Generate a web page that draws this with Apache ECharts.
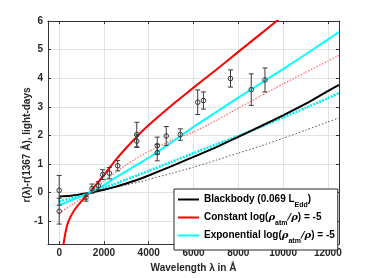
<!DOCTYPE html>
<html><head><meta charset="utf-8">
<script src="https://cdn.jsdelivr.net/npm/echarts@6/dist/echarts.min.js"></script>
<style>html,body{margin:0;padding:0;background:#fff}#c{width:375px;height:278px}</style>
</head><body><div id="c"></div><script>
// ---- data ----
const xTicks = [0, 2000, 4000, 6000, 8000, 10000, 12000];
const yTicks = [-1, 0, 1, 2, 3, 4, 5, 6];

const modelWave = [0, 500, 1000, 1367, 2000, 2500, 3000, 3500, 4000, 5000, 6000, 7000, 8000, 9000, 10000, 11000, 12000, 12500];
const blackbodyLag = [-0.14, -0.11, -0.05, 0, 0.1, 0.2, 0.32, 0.45, 0.6, 0.92, 1.25, 1.58, 1.95, 2.32, 2.7, 3.1, 3.55, 3.77];
const blackbodyDotLag = [-0.14, -0.1, -0.04, 0, 0.09, 0.18, 0.27, 0.36, 0.46, 0.67, 0.89, 1.13, 1.38, 1.63, 1.9, 2.18, 2.47, 2.61];
const exponentialLag = [-0.44, -0.28, -0.12, 0, 0.26, 0.52, 0.75, 0.99, 1.22, 1.75, 2.3, 2.81, 3.32, 3.82, 4.32, 4.83, 5.35, 5.61];
const exponentialDotLag = [-0.31, -0.2, -0.09, 0, 0.17, 0.31, 0.46, 0.61, 0.76, 1.07, 1.38, 1.68, 1.98, 2.3, 2.63, 2.96, 3.3, 3.48];
const constantDotLag = [-0.72, -0.46, -0.21, 0, 0.4, 0.7, 0.98, 1.22, 1.44, 1.82, 2.12, 2.52, 2.95, 3.38, 3.8, 4.2, 4.6, 4.8];

const constantWave = [100, 193, 372, 673, 1000, 1367, 1750, 2000, 2500, 3000, 3500, 4000, 5000, 6000, 7000, 8000, 9000, 10000];
const constantLag = [-2.5, -1.8, -1.1, -0.62, -0.3, 0, 0.38, 0.62, 1.12, 1.57, 1.98, 2.36, 3.04, 3.67, 4.29, 4.92, 5.55, 6.18];

const obsWave = [0, 0, 1197, 1466, 1749, 1943, 2242, 2614, 3466, 3466, 4380, 4380, 4783, 5411, 6188, 6443, 7653, 8580, 9193];
const obsLag  = [0.08, -0.65, -0.17, 0.14, 0.24, 0.63, 0.68, 0.94, 2.03, 1.80, 1.64, 1.40, 1.98, 2.03, 3.16, 3.22, 3.99, 3.60, 3.94];
const obsErr  = [0.52, 0.45, 0.13, 0.16, 0.14, 0.17, 0.2, 0.18, 0.43, 0.22, 0.3, 0.29, 0.33, 0.2, 0.43, 0.3, 0.3, 0.55, 0.42];

// ---- chart ----
const pair = (xs, ys) => xs.map((x, i) => [x, ys[i]]);
const FONT = 'Liberation Sans';
const AX = '#333333';
const chart = echarts.init(document.getElementById('c'), null, {renderer: 'canvas'});

const axisCommon = {
  type: 'value',
  axisLine: {show: true, onZero: false, lineStyle: {color: AX, width: 1}},
  axisTick: {show: true, inside: true, length: 3, lineStyle: {color: AX}},
};

const lineSeries = (name, data, color, width, type, z) => ({
  name, type: 'line', data, showSymbol: false, symbol: 'none',
  smooth: 0.2, clip: true, z: z || 2,
  lineStyle: {color, width, type: type || 'solid'},
  itemStyle: {color}, emphasis: {disabled: true}
});

chart.setOption({
  animation: false,
  backgroundColor: '#fff',
  grid: {left: 48, top: 21, width: 291, height: 226, containLabel: false},
  xAxis: [
    Object.assign({}, axisCommon, {
      min: -500, max: 12500, position: 'bottom',
      axisTick: {show: true, inside: true, length: 3, lineStyle: {color: AX}, customValues: xTicks},
      axisLabel: {customValues: xTicks, formatter: v => String(v), margin: 4, fontFamily: FONT, fontWeight: 'bold', fontSize: 10, color: '#262626'},
      splitLine: {show: true, lineStyle: {color: '#e3e3e3', width: 1}},
      name: 'Wavelength λ in Å', nameLocation: 'middle', nameGap: 18,
      nameTextStyle: {fontFamily: FONT, fontWeight: 'bold', fontSize: 10, color: '#262626'}
    }),
    Object.assign({}, axisCommon, {
      min: -500, max: 12500, position: 'top',
      axisTick: {show: true, inside: true, length: 3, lineStyle: {color: AX}, customValues: xTicks},
      axisLabel: {show: false}, splitLine: {show: false}
    })
  ],
  yAxis: [
    Object.assign({}, axisCommon, {
      min: -1.8, max: 6, position: 'left',
      axisTick: {show: true, inside: true, length: 3, lineStyle: {color: AX}, customValues: yTicks},
      axisLabel: {customValues: yTicks, formatter: v => String(v), margin: 5, fontFamily: FONT, fontWeight: 'bold', fontSize: 10, color: '#262626'},
      splitLine: {show: true, lineStyle: {color: '#e3e3e3', width: 1}}
    }),
    Object.assign({}, axisCommon, {
      min: -1.8, max: 6, position: 'right',
      axisTick: {show: true, inside: true, length: 3, lineStyle: {color: AX}, customValues: yTicks},
      axisLabel: {show: false}, splitLine: {show: false}
    })
  ],
  legend: {
    orient: 'vertical', left: 174, top: 189,
    data: ['Blackbody', 'Constant', 'Exponential'],
    icon: 'rect', itemWidth: 21, itemHeight: 2, itemGap: 2,
    backgroundColor: '#fff', borderColor: '#262626', borderWidth: 1,
    padding: [4, 3, 5, 4], selectedMode: false,
    formatter: function (n) {
      if (n === 'Blackbody') return 'Blackbody (0.069 L{sub|Edd})';
      if (n === 'Constant') return 'Constant log({it|ρ}{sub|atm}{it|/ρ}) = -5';
      return 'Exponential log({it|ρ}{sub|atm}{it|/ρ}) = -5';
    },
    textStyle: {
      fontFamily: FONT, fontWeight: 'bold', fontSize: 10, color: '#000', lineHeight: 13,
      rich: {
        sub: {fontFamily: FONT, fontWeight: 'bold', fontSize: 7, color: '#000', verticalAlign: 'bottom', lineHeight: 13, padding: [0, 0, -3, 0]},
        it: {fontFamily: 'DejaVu Serif', fontStyle: 'italic', fontSize: 10, color: '#000', lineHeight: 13}
      }
    }
  },
  graphic: [{
    type: 'text', x: 27, y: 145, rotation: Math.PI / 2, silent: true,
    style: {text: 'r(λ)-r(1367 Å), light-days', fontFamily: FONT, fontWeight: 'bold', fontSize: 10, fill: '#262626', align: 'center', verticalAlign: 'middle'}
  }],
  series: [
    lineSeries('BlackbodyDot', pair(modelWave, blackbodyDotLag), '#555555', 1, [1.5, 2]),
    lineSeries('ConstantDot', pair(modelWave, constantDotLag), '#ff7070', 1.3, [1.5, 1.5]),
    lineSeries('ExponentialDot', pair(modelWave, exponentialDotLag), '#00f0f0', 2.5, [2, 1.2]),
    lineSeries('Blackbody', pair(modelWave, blackbodyLag), '#000000', 2, 'solid', 3),
    lineSeries('Constant', pair(constantWave, constantLag), '#ff0000', 2, 'solid', 3),
    lineSeries('Exponential', pair(modelWave, exponentialLag), '#00ffff', 2, 'solid', 3),
    {
      type: 'custom', name: 'obs', z: 5, clip: true,
      data: obsWave.map((w, i) => [w, obsLag[i], obsErr[i]]),
      encode: {x: 0, y: 1},
      renderItem: function (params, api) {
        const x = api.value(0), y = api.value(1), e = api.value(2);
        const p = api.coord([x, y]);
        const t = api.coord([x, y + e])[1], b = api.coord([x, y - e])[1];
        const w = 2.5, st = {stroke: '#3a3a3a', lineWidth: 1};
        return {type: 'group', children: [
          {type: 'line', shape: {x1: p[0], y1: t, x2: p[0], y2: b}, style: st},
          {type: 'line', shape: {x1: p[0] - w, y1: t, x2: p[0] + w, y2: t}, style: st},
          {type: 'line', shape: {x1: p[0] - w, y1: b, x2: p[0] + w, y2: b}, style: st},
          {type: 'circle', shape: {cx: p[0], cy: p[1], r: 2.3}, style: {fill: 'none', stroke: '#3a3a3a', lineWidth: 1}}
        ]};
      }
    }
  ]
});
</script></body></html>
